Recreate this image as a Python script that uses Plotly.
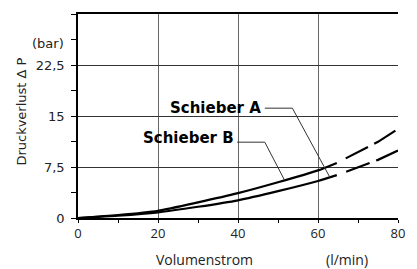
import plotly.graph_objects as go

# ---- data ----
flow_solid = [0, 10, 20, 30, 40, 50, 60, 64.7]
flow_dashed = [64.7, 70, 75, 80]
curve_upper_solid = [0, 0.44, 1.07, 2.3, 3.65, 5.25, 7.0, 8.1]
curve_upper_dashed = [8.1, 9.65, 11.2, 13.1]
curve_lower_solid = [0, 0.34, 0.83, 1.65, 2.6, 3.95, 5.45, 6.3]
curve_lower_dashed = [6.3, 7.45, 8.55, 9.93]

y_tick_vals = [0, 7.5, 15, 22.5, 30]
y_tick_text = ["0", "7,5", "15", "22,5", ""]
x_tick_vals = [0, 20, 40, 60, 80]
x_tick_text = ["0", "20", "40", "60", "80"]

label_texts = ["Schieber A", "Schieber B"]
label_x = [46.2, 39.4]
label_y = [16.2, 11.75]
leader_x = [[46.7, 53.6, 63.0], [39.8, 46.7, 51.6]]
leader_y = [[16.15, 16.15, 5.95], [11.15, 11.15, 5.6]]

fig = go.Figure()

for ys, yd in [(curve_upper_solid, curve_upper_dashed), (curve_lower_solid, curve_lower_dashed)]:
    fig.add_trace(go.Scatter(x=flow_solid, y=ys, mode="lines",
                             line=dict(color="black", width=2.2, shape="spline", smoothing=0.6),
                             showlegend=False, hoverinfo="skip"))
    fig.add_trace(go.Scatter(x=flow_dashed, y=yd, mode="lines",
                             line=dict(color="black", width=2.2, dash="0px,10px,25px,7px,25px,100px"),
                             showlegend=False, hoverinfo="skip"))

for lx, ly in zip(leader_x, leader_y):
    fig.add_trace(go.Scatter(x=lx, y=ly, mode="lines",
                             line=dict(color="#333333", width=1),
                             showlegend=False, hoverinfo="skip"))

annotations = []
for t, x, y in zip(label_texts, label_x, label_y):
    annotations.append(dict(text="<b>" + t + "</b>", x=x, y=y, xref="x", yref="y",
                            xanchor="right", yanchor="middle", showarrow=False,
                            font=dict(family="DejaVu Sans", size=15, color="black")))

annotations += [
    dict(text="(bar)", x=-0.036, y=25.6, xref="paper", yref="y", xanchor="right",
         yanchor="middle", showarrow=False,
         font=dict(family="DejaVu Sans", size=13, color="#222")),
    dict(text="Druckverlust Δ P", x=-0.176, y=0.52, xref="paper", yref="paper",
         xanchor="center", yanchor="middle", textangle=-90, showarrow=False,
         font=dict(family="DejaVu Sans", size=13, color="#222")),
    dict(text="Volumenstrom", x=31.6, y=-0.204, xref="x", yref="paper",
         xanchor="center", yanchor="middle", showarrow=False,
         font=dict(family="Open Sans", size=14, color="#222")),
    dict(text="(l/min)", x=67.2, y=-0.204, xref="x", yref="paper",
         xanchor="center", yanchor="middle", showarrow=False,
         font=dict(family="Open Sans", size=14, color="#222")),
]

fig.update_layout(
    width=417, height=269,
    margin=dict(l=78, r=15, t=12, b=51),
    paper_bgcolor="white", plot_bgcolor="white",
    annotations=annotations,
    xaxis=dict(range=[0, 80], tickvals=x_tick_vals, ticktext=x_tick_text,
               showgrid=True, gridcolor="#666", gridwidth=1,
               showline=True, linecolor="black", linewidth=1.5, mirror=True,
               ticks="outside", ticklen=3, tickcolor="black",
               minor=dict(tickvals=[10, 30, 50, 70], ticks="outside", ticklen=3,
                          tickcolor="black", showgrid=False),
               tickfont=dict(family="Open Sans", size=13, color="#222"),
               zeroline=False, fixedrange=True),
    yaxis=dict(range=[0, 30], tickvals=y_tick_vals, ticktext=y_tick_text,
               showgrid=True, gridcolor="#333", gridwidth=1,
               showline=True, linecolor="black", linewidth=1.5,
               ticks="outside", ticklen=5, tickcolor="black",
               minor=dict(tickvals=[3.75, 11.25, 18.75, 26.25], ticks="outside", ticklen=5,
                          tickcolor="black", showgrid=False),
               tickfont=dict(family="DejaVu Sans", size=13, color="#222"),
               ticklabelstandoff=4,
               zeroline=False, fixedrange=True),
)

fig.write_html("out.html", config={"displayModeBar": False},
               post_script="document.body.style.margin='0';document.body.style.overflow='hidden';")
